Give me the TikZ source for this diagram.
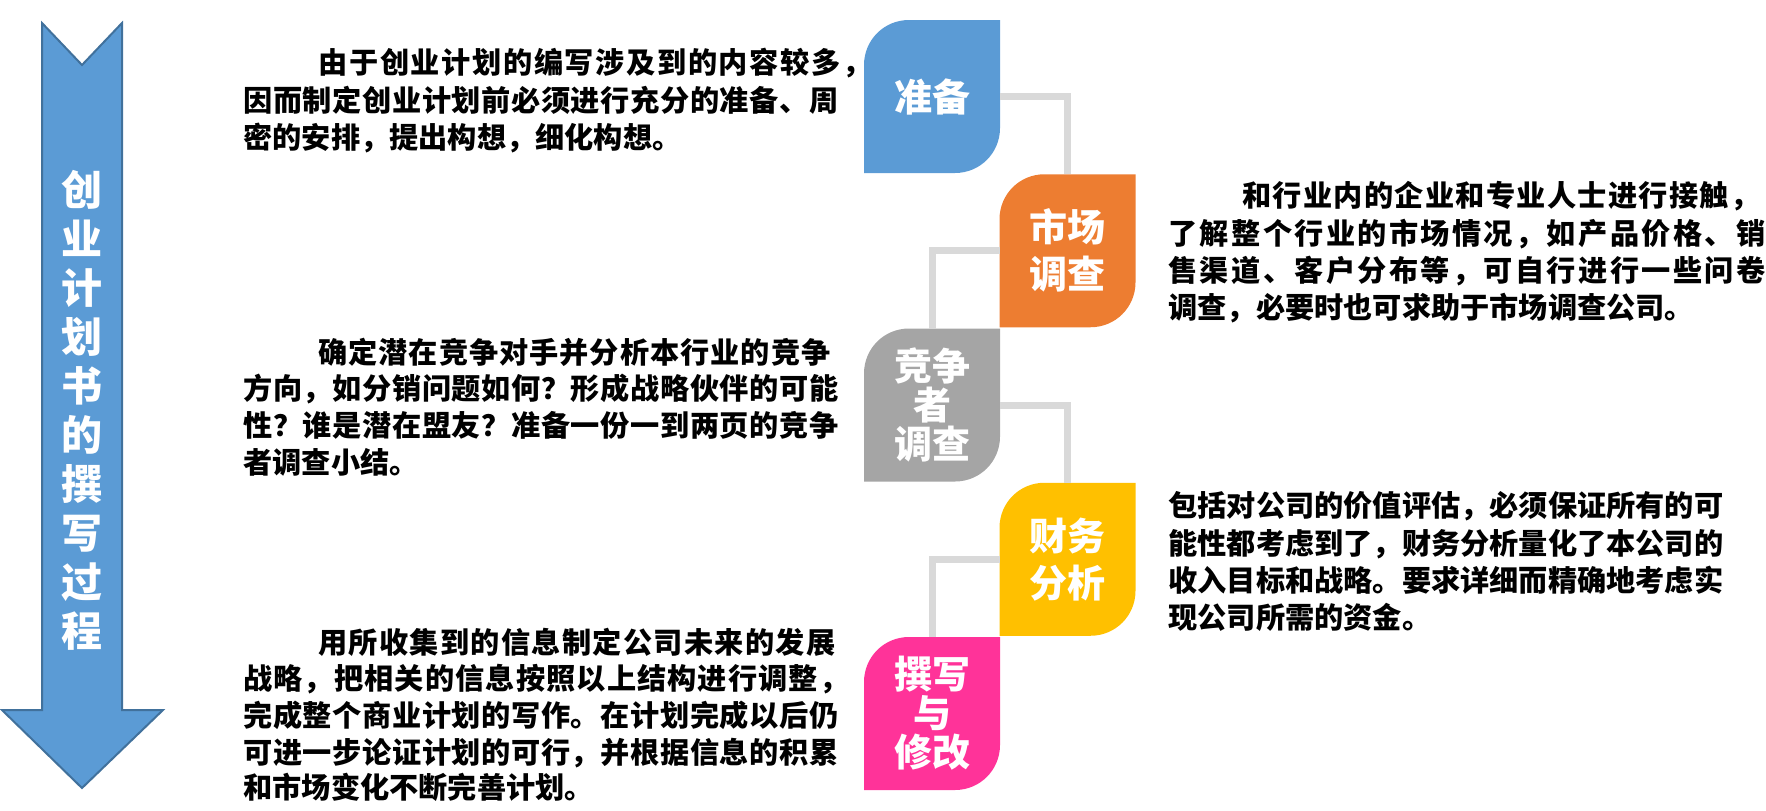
\documentclass[tikz,border=0pt]{standalone}
\usepackage{fontspec}
\newfontfamily\cjk{Noto Sans CJK SC}
\makeatletter
\newcommand\spreadline[2]{\hbox to #1{\spl@first#2\relax}}
\def\spl@first#1{#1\spl@rest}
\def\spl@rest#1{\ifx#1\relax\else\hfil#1\expandafter\spl@rest\fi}
\makeatother
\definecolor{cA}{HTML}{5B9BD5}
\definecolor{cAd}{HTML}{41719C}
\definecolor{cB}{HTML}{ED7D31}
\definecolor{cC}{HTML}{A5A5A5}
\definecolor{cD}{HTML}{FFC000}
\definecolor{cE}{HTML}{FF3399}
\definecolor{cline}{HTML}{D9D9D9}
\begin{document}
\begin{tikzpicture}[x=0.5pt,y=-0.5pt,
  conn/.style={draw=cline, line width=3.5pt},
  body/.style={anchor=base west, inner sep=0pt, text=black, font=\cjk\bfseries\fontsize{14.6pt}{17pt}\selectfont},
  leaf/.style={minimum width=68pt, minimum height=76.5pt, inner sep=0pt, outer sep=0pt, text=white, align=center,
    font=\cjk\bfseries\fontsize{19pt}{23.5pt}\selectfont,
    path picture={\fill[#1]
      ([yshift=-22.5pt]path picture bounding box.north west)
      .. controls ([yshift=-10pt]path picture bounding box.north west) and ([xshift=10pt]path picture bounding box.north west) ..
      ([xshift=22.5pt]path picture bounding box.north west)
      -- (path picture bounding box.north east)
      -- ([yshift=22.5pt]path picture bounding box.south east)
      .. controls ([yshift=10pt]path picture bounding box.south east) and ([xshift=-10pt]path picture bounding box.south east) ..
      ([xshift=-22.5pt]path picture bounding box.south east)
      -- (path picture bounding box.south west) -- cycle;}},
  tight/.style={font=\cjk\bfseries\fontsize{19pt}{19.5pt}\selectfont},
  titletxt/.style={text=white, align=center, inner sep=0pt, font=\cjk\bfseries\fontsize{20.5pt}{24.5pt}\selectfont}
]
\useasboundingbox (0,0) rectangle (1766,810);

% big arrow
\fill[cA, draw=cAd, line width=1pt] (42,23) -- (82,65) -- (122,23) -- (122,710) -- (163,710) -- (82,788) -- (2,710) -- (42,710) -- cycle;
\node[titletxt] (title) at (82,410.5) {创\\业\\计\\划\\书\\的\\撰\\写\\过\\程};

% step boxes
\node[leaf=cA] (p1) at (932,96.5) {准备};
\node[leaf=cB] (p2) at (1067.5,250.75) {市场\\调查};
\node[leaf=cC, tight] (p3) at (932,405) {竞争\\者\\调查};
\node[leaf=cD] (p4) at (1067.5,559.25) {财务\\分析};
\node[leaf=cE, tight] (p5) at (932,713.5) {撰写\\与\\修改};

% connectors
\draw[conn] (p1.east) -| (p2.north);
\draw[conn] (p2.west) -| (p3.north);
\draw[conn] (p3.east) -| (p4.north);
\draw[conn] (p4.west) -| (p5.north);

% block 1
\node[body] (a1) at (318,73) {\spreadline{276.5pt}{由于创业计划的编写涉及到的内容较多，}};
\node[body] (a2) at (243,111) {\spreadline{297.5pt}{因而制定创业计划前必须进行充分的准备、周}};
\node[body] (a3) at (243,148) {密的安排，提出构想，细化构想。};

% block 2
\node[body] (b1) at (1242,206) {\spreadline{258.5pt}{和行业内的企业和专业人士进行接触，}};
\node[body] (b2) at (1168,244) {\spreadline{298.5pt}{了解整个行业的市场情况，如产品价格、销}};
\node[body] (b3) at (1168,281) {\spreadline{298.5pt}{售渠道、客户分布等，可自行进行一些问卷}};
\node[body] (b4) at (1168,318) {调查，必要时也可求助于市场调查公司。};

% block 3
\node[body] (c1) at (318,363) {\spreadline{256pt}{确定潜在竞争对手并分析本行业的竞争}};
\node[body] (c2) at (243,399) {\spreadline{297.5pt}{方向，如分销问题如何？形成战略伙伴的可能}};
\node[body] (c3) at (243,436) {\spreadline{297.5pt}{性？谁是潜在盟友？准备一份一到两页的竞争}};
\node[body] (c4) at (243,473) {者调查小结。};

% block 4
\node[body] (d1) at (1168,516) {\spreadline{276pt}{包括对公司的价值评估，必须保证所有的可}};
\node[body] (d2) at (1168,554) {\spreadline{276pt}{能性都考虑到了，财务分析量化了本公司的}};
\node[body] (d3) at (1168,591) {\spreadline{276pt}{收入目标和战略。要求详细而精确地考虑实}};
\node[body] (d4) at (1168,628) {现公司所需的资金。};

% block 5
\node[body] (e1) at (318,653) {\spreadline{258.5pt}{用所收集到的信息制定公司未来的发展}};
\node[body] (e2) at (243,689) {\spreadline{302.5pt}{战略，把相关的信息按照以上结构进行调整，}};
\node[body] (e3) at (243,726) {\spreadline{297.5pt}{完成整个商业计划的写作。在计划完成以后仍}};
\node[body] (e4) at (243,763) {\spreadline{297.5pt}{可进一步论证计划的可行，并根据信息的积累}};
\node[body] (e5) at (243,798) {和市场变化不断完善计划。};
\end{tikzpicture}
\end{document}
